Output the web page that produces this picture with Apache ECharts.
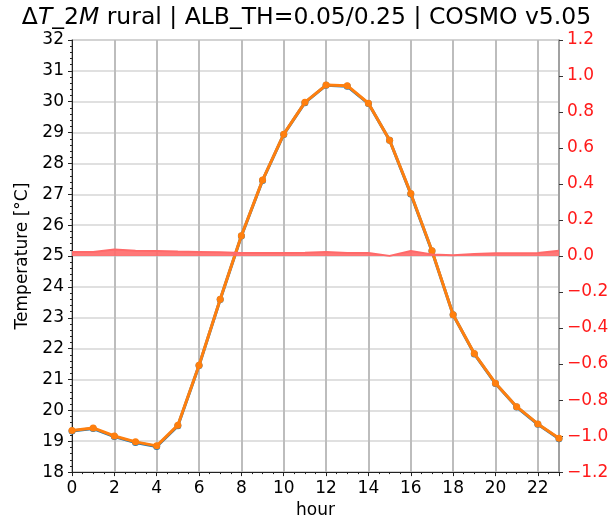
<!DOCTYPE html>
<html>
<head>
<meta charset="utf-8">
<script src="https://cdn.jsdelivr.net/npm/echarts@6/dist/echarts.min.js"></script>
<style>
html,body{margin:0;padding:0;background:#fff;}
#chart{width:613px;height:524px;}
</style>
</head>
<body>
<div id="chart"></div>
<script>
const hours = [0,1,2,3,4,5,6,7,8,9,10,11,12,13,14,15,16,17,18,19,20,21,22,23];
const tempA = [19.33,19.41,19.15,18.96,18.83,19.50,21.45,23.59,25.65,27.45,28.94,29.97,30.53,30.50,29.94,28.75,27.01,25.16,23.10,21.83,20.87,20.11,19.55,19.08];
const tempB = [19.35,19.43,19.17,18.98,18.85,19.52,21.46,23.60,25.66,27.46,28.95,29.98,30.54,30.52,29.95,28.75,27.03,25.17,23.10,21.84,20.88,20.12,19.56,19.10];
const diff = [0.023,0.023,0.036,0.030,0.028,0.025,0.023,0.021,0.017,0.017,0.017,0.019,0.023,0.017,0.017,0.001,0.028,0.008,0.005,0.012,0.016,0.016,0.017,0.030];
const leftTicks = {min:18, max:32, interval:1};
const rightTicks = {min:-1.2, max:1.2, interval:0.2};
const xTicks = {min:0, max:23, interval:2};

const FONT = 'DejaVu Sans';
const chart = echarts.init(document.getElementById('chart'), null, {renderer:'canvas'});
const pairs = (ys) => hours.map((h,i)=>[h, ys[i]]);

chart.setOption({
  animation:false,
  backgroundColor:'#fff',
  textStyle:{fontFamily:FONT},
  title:{
    left:'center', top:1,
    text:'{n|Δ}{i|T}{n|_2}{i|M}{n| rural | ALB_TH=0.05/0.25 | COSMO v5.05}',
    textStyle:{
      fontWeight:'normal',
      rich:{
        n:{fontFamily:FONT,fontSize:23.5,fontWeight:'normal',color:'#000'},
        i:{fontFamily:FONT,fontSize:23.5,fontWeight:'normal',fontStyle:'italic',color:'#000'}
      }
    }
  },
  grid:{left:72,right:54,top:40,bottom:49,show:true,borderColor:'#999',borderWidth:1.2,backgroundColor:'transparent'},
  xAxis:{
    type:'value', min:xTicks.min, max:xTicks.max, interval:xTicks.interval,
    name:'hour', nameLocation:'middle', nameGap:29,
    nameTextStyle:{fontFamily:FONT,fontSize:17,color:'#000'},
    axisLine:{show:true,onZero:false,lineStyle:{color:'#222',width:1}},
    axisTick:{show:true,length:4,lineStyle:{color:'#222'}},
    minorTick:{show:true,splitNumber:4,length:2,lineStyle:{color:'#222'}},
    axisLabel:{fontFamily:FONT,fontSize:17,color:'#000',margin:8,showMaxLabel:false},
    splitLine:{show:true,lineStyle:{color:'#bdbdbd',width:2}}
  },
  yAxis:[{
    type:'value', position:'left', min:leftTicks.min, max:leftTicks.max, interval:leftTicks.interval,
    name:'Temperature [°C]', nameLocation:'middle', nameGap:40,
    nameTextStyle:{fontFamily:FONT,fontSize:17,color:'#000'},
    axisLine:{show:true,lineStyle:{color:'#222',width:1}},
    axisTick:{show:true,length:4,lineStyle:{color:'#222'}},
    minorTick:{show:true,splitNumber:5,length:2,lineStyle:{color:'#222'}},
    axisLabel:{fontFamily:FONT,fontSize:17,color:'#000',margin:8},
    splitLine:{show:true,lineStyle:{color:'#d6d6d6',width:1.5}}
  },{
    type:'value', position:'right', min:rightTicks.min, max:rightTicks.max, interval:rightTicks.interval,
    axisLine:{show:true,lineStyle:{color:'#999',width:1.5}},
    axisTick:{show:true,length:4,lineStyle:{color:'#333'}},
    axisLabel:{fontFamily:FONT,fontSize:17,color:'#ff1a1a',margin:8,
      formatter:(v)=>{const s=Math.abs(v).toFixed(1); return (v< -1e-9?'\u2212':'')+s;}},
    splitLine:{show:false}
  }],
  series:[{
    type:'line', yAxisIndex:0, data:pairs(tempA),
    lineStyle:{color:'#1f77b4',width:3}, itemStyle:{color:'#1f77b4'},
    symbol:'circle', symbolSize:7, showSymbol:true, z:3
  },{
    type:'line', yAxisIndex:0, data:pairs(tempB),
    lineStyle:{color:'#ff7f0e',width:3}, itemStyle:{color:'#ff7f0e'},
    symbol:'circle', symbolSize:7, showSymbol:true, z:4
  },{
    type:'line', yAxisIndex:1, data:pairs(diff),
    lineStyle:{color:'rgb(255,105,105)',width:2},
    areaStyle:{color:'rgb(255,105,105)',opacity:0.9,origin:0},
    symbol:'none', z:5
  }]
});
</script>
</body>
</html>
